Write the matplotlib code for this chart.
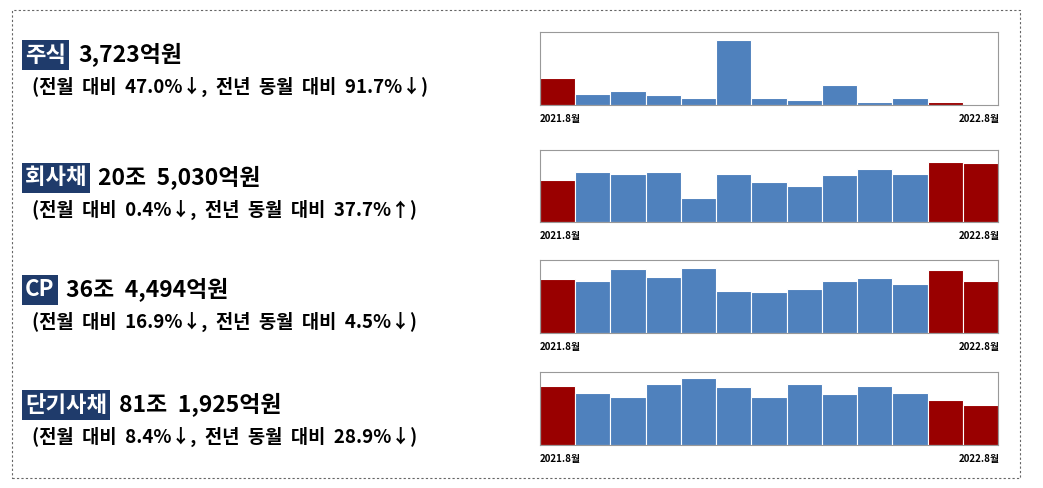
import matplotlib
matplotlib.use("Agg")
import matplotlib.pyplot as plt
from matplotlib.patches import Rectangle

plt.rcParams['font.family'] = ['Noto Sans CJK KR', 'DejaVu Sans']

labels = ["주식", "회사채", "CP", "단기사채"]
amounts = ["3,723억원", "20조  5,030억원", "36조  4,494억원", "81조  1,925억원"]
changes = ["(전월 대비 47.0%↓, 전년 동월 대비 91.7%↓)",
           "(전월 대비 0.4%↓, 전년 동월 대비 37.7%↑)",
           "(전월 대비 16.9%↓, 전년 동월 대비 4.5%↓)",
           "(전월 대비 8.4%↓, 전년 동월 대비 28.9%↓)"]
series = [
    [27, 11, 14, 10, 7, 65, 7, 5, 20, 3, 7, 3, 1],
    [42, 50, 48, 50, 24, 48, 40, 36, 47, 53, 48, 60, 59],
    [54, 52, 64, 56, 65, 42, 41, 44, 52, 55, 49, 63, 52],
    [59, 52, 48, 61, 67, 58, 48, 61, 51, 59, 52, 45, 40],
]
ymax = [73, 72, 73, 73]
red_idx = [0, 11, 12]
start_label, end_label = "2021.8월", "2022.8월"

W, H = 1043, 488
fig = plt.figure(figsize=(W/100, H/100), dpi=100)
fig.patches.append(Rectangle((12/W, 10/H), 1008/W, 468/H, transform=fig.transFigure,
                             fill=False, ec='#666666', lw=0.8, ls=(0, (2, 2))))

tops = [32, 150, 260, 372]
bots = [105, 222, 333, 445]
label_y = [55, 178, 290, 405]
for i in range(4):
    ax = fig.add_axes([540/W, 1-bots[i]/H, 458/W, (bots[i]-tops[i])/H])
    cols = ['#990000' if j in red_idx else '#4f81bd' for j in range(13)]
    ax.bar(range(13), series[i], width=1.0, color=cols, ec='white', lw=0.8)
    ax.set_xlim(-0.5, 12.5)
    ax.set_ylim(0, ymax[i])
    ax.set_xticks([]); ax.set_yticks([])
    for s in ax.spines.values():
        s.set_color('#999999'); s.set_linewidth(0.8)
    fig.text(540/W, 1-(bots[i]+14)/H, start_label, fontsize=7, fontweight='bold', va='center', ha='left')
    fig.text(1000/W, 1-(bots[i]+14)/H, end_label, fontsize=7, fontweight='bold', va='center', ha='right')

    y = 1-label_y[i]/H
    t = fig.text(25/W, y, labels[i], fontsize=16, fontweight='bold', color='white', va='center', ha='left',
                 bbox=dict(boxstyle='square,pad=0.15', fc='#1f3b6b', ec='none'))
    fig.canvas.draw()
    bb = t.get_window_extent()
    fig.text((bb.x1+12)/W, y, amounts[i], fontsize=16.5, fontweight='bold', va='center', ha='left')
    fig.text(32/W, 1-(label_y[i]+32)/H, changes[i].replace(" ", "  "), fontsize=13.5,
             fontweight='bold', va='center', ha='left')

fig.savefig("out.png", dpi=100)
